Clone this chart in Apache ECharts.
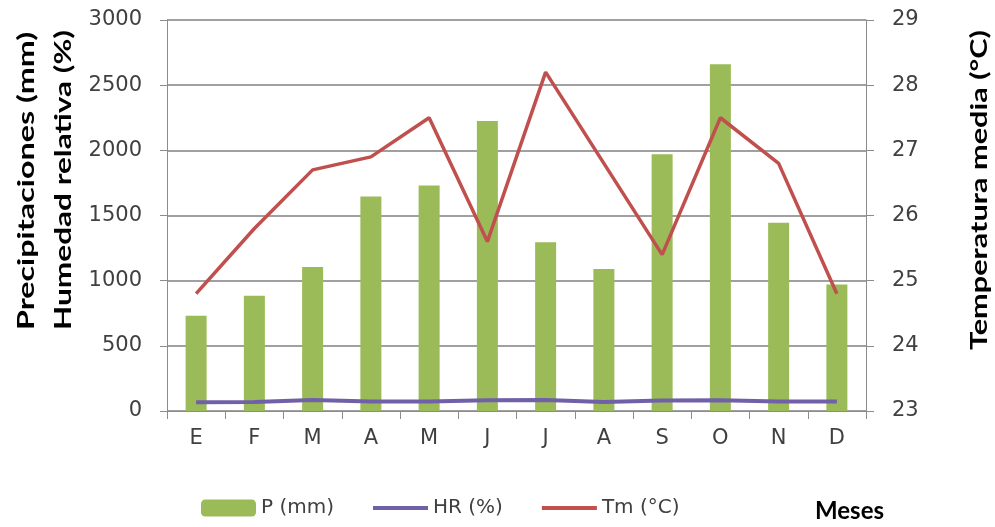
<!DOCTYPE html>
<html>
<head>
<meta charset="utf-8">
<script src="https://cdn.jsdelivr.net/npm/echarts@6/dist/echarts.min.js"></script>
<style>
  html, body { margin: 0; padding: 0; background: #fff; }
  #chart { width: 995px; height: 527px; }
</style>
</head>
<body>
<div id="chart"></div>
<script>
// months (Spanish initials)
const meses = ['E', 'F', 'M', 'A', 'M', 'J', 'J', 'A', 'S', 'O', 'N', 'D'];
// precipitation (mm)
const precip = [730, 885, 1105, 1645, 1730, 2225, 1295, 1090, 1970, 2660, 1445, 970];
// relative humidity (%)
const humedad = [68, 70, 84, 72, 72, 82, 84, 70, 80, 82, 72, 72];
// mean temperature (°C)
const temp = [24.8, 25.8, 26.7, 26.9, 27.5, 25.6, 28.2, 26.8, 25.4, 27.5, 26.8, 24.8];

const font = '"DejaVu Sans", sans-serif';
const titleFont = 'bold 22px Lato, "Open Sans", sans-serif';
const chart = echarts.init(document.getElementById('chart'));

// measure text so the stretched titles span the same length as the original
const ctx = document.createElement('canvas').getContext('2d');
function vTitle(text, x, y, length) {
  ctx.font = titleFont;
  const w = ctx.measureText(text).width;
  return {
    type: 'text',
    x: x, y: y,
    rotation: Math.PI / 2,
    scaleX: length / w,
    style: {
      text: text,
      font: titleFont,
      fill: '#000',
      align: 'center',
      verticalAlign: 'middle'
    }
  };
}

chart.setOption({
  animation: false,
  textStyle: { fontFamily: font },
  grid: { left: 167, right: 129, top: 20, bottom: 116 },
  legend: {
    left: 196,
    bottom: 4,
    itemWidth: 55,
    itemHeight: 17,
    itemGap: 37,
    textStyle: { fontSize: 20, color: '#404040', fontFamily: font },
    data: [
      { name: 'P (mm)' },
      { name: 'HR (%)', itemStyle: { opacity: 0 }, lineStyle: { width: 4 } },
      { name: 'Tm (°C)', itemStyle: { opacity: 0 }, lineStyle: { width: 4 } }
    ]
  },
  xAxis: {
    type: 'category',
    data: meses,
    axisLine: { lineStyle: { color: '#8c8c8c', width: 1 } },
    axisTick: { show: true, length: 8, lineStyle: { color: '#8c8c8c' } },
    axisLabel: { fontSize: 21, color: '#404040', margin: 17 }
  },
  yAxis: [
    {
      type: 'value',
      min: 0,
      max: 3000,
      interval: 500,
      axisLine: { show: true, lineStyle: { color: '#8c8c8c' } },
      axisTick: { show: true, length: 7, lineStyle: { color: '#8c8c8c' } },
      axisLabel: { fontSize: 21, color: '#404040', margin: 25, formatter: v => String(v) },
      splitLine: { lineStyle: { color: '#a0a0a0', width: 2 } }
    },
    {
      type: 'value',
      min: 23,
      max: 29,
      interval: 1,
      position: 'right',
      axisLine: { show: true, lineStyle: { color: '#8c8c8c' } },
      axisTick: { show: true, length: 8, lineStyle: { color: '#8c8c8c' } },
      axisLabel: { fontSize: 21, color: '#404040', margin: 26 },
      splitLine: { show: false }
    }
  ],
  graphic: [
    vTitle('Precipitaciones (mm)', 27, 181, 298),
    vTitle('Humedad relativa (%)', 64, 180, 300),
    vTitle('Temperatura media (°C)', 980, 190, 320),
    {
      type: 'text',
      x: 815, y: 511,
      style: {
        text: 'Meses',
        font: 'bold 24px Lato, sans-serif',
        fill: '#000',
        verticalAlign: 'middle'
      }
    }
  ],
  series: [
    {
      name: 'P (mm)',
      type: 'bar',
      data: precip,
      barWidth: 21,
      itemStyle: { color: '#9bbb59' }
    },
    {
      name: 'HR (%)',
      type: 'line',
      data: humedad,
      symbol: 'none',
      lineStyle: { color: '#7060a8', width: 4 },
      itemStyle: { color: '#7060a8' }
    },
    {
      name: 'Tm (°C)',
      type: 'line',
      yAxisIndex: 1,
      data: temp,
      symbol: 'none',
      lineStyle: { color: '#c0504d', width: 3.5 },
      itemStyle: { color: '#c0504d' }
    }
  ]
});
</script>
</body>
</html>
